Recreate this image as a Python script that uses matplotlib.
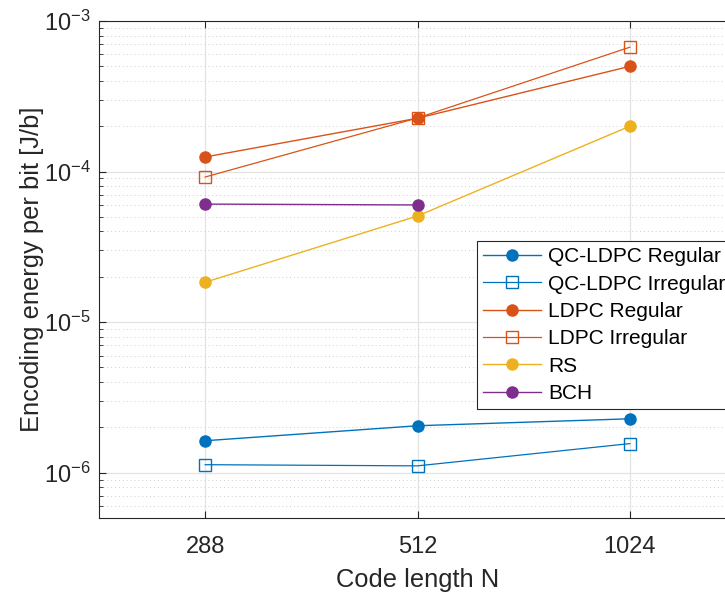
import matplotlib
matplotlib.use("Agg")
import matplotlib.pyplot as plt
from matplotlib.ticker import LogLocator, NullFormatter

plt.rcParams['font.family'] = ['Liberation Sans', 'DejaVu Sans']
plt.rcParams['mathtext.fontset'] = 'custom'
plt.rcParams['mathtext.rm'] = 'Liberation Sans'
plt.rcParams['mathtext.it'] = 'Liberation Sans'

# --- data ---
code_lengths = ["288", "512", "1024"]
qc_ldpc_regular = [1.63e-6, 2.05e-6, 2.28e-6]
qc_ldpc_irregular = [1.13e-6, 1.11e-6, 1.56e-6]
ldpc_regular = [1.25e-4, 2.26e-4, 5.0e-4]
ldpc_irregular = [9.2e-5, 2.27e-4, 6.7e-4]
rs = [1.84e-5, 5.07e-5, 2.0e-4]
bch = [6.08e-5, 6.0e-5]

blue = "#0072BD"
orange = "#D95319"
yellow = "#EDB120"
purple = "#7E2F8E"

fig = plt.figure(figsize=(7.25, 5.92), dpi=100)
ax = fig.add_axes([99 / 725, 1 - 518 / 592, (736 - 99) / 725, (518 - 21) / 592])

x = list(range(1, len(code_lengths) + 1))
ax.plot(x, qc_ldpc_regular, "-o", color=blue, lw=1, ms=8, label="QC-LDPC Regular")
ax.plot(x, qc_ldpc_irregular, "-s", color=blue, lw=0.9, ms=8.5, mfc="none", label="QC-LDPC Irregular")
ax.plot(x, ldpc_regular, "-o", color=orange, lw=1, ms=8, label="LDPC Regular")
ax.plot(x, ldpc_irregular, "-s", color=orange, lw=0.9, ms=8.5, mfc="none", label="LDPC Irregular")
ax.plot(x, rs, "-o", color=yellow, lw=1, ms=8, label="RS")
ax.plot(x[:len(bch)], bch, "-o", color=purple, lw=1, ms=8, label="BCH")

ax.set_yscale("log")
ax.set_ylim(5e-7, 1e-3)
ax.set_xlim(0.5, 3.5)
ax.set_xticks(x)
ax.set_xticklabels(code_lengths)
ax.yaxis.set_minor_locator(LogLocator(base=10, subs=range(2, 10)))
ax.yaxis.set_minor_formatter(NullFormatter())

ax.grid(True, which="major", color="#e3e3e3", lw=0.9)
ax.grid(True, which="minor", axis="y", color="#cfcfcf", lw=0.7, ls=(0, (1, 3)))
ax.set_axisbelow(True)

for s in ax.spines.values():
    s.set_color("#262626")
    s.set_linewidth(0.8)
ax.tick_params(which="both", direction="in", top=True, right=True, colors="#262626",
               labelsize=17, labelcolor="#262626")
ax.tick_params(which="major", length=5)
ax.tick_params(which="minor", length=3)
ax.tick_params(axis="x", pad=13)
ax.tick_params(axis="y", pad=6)

ax.set_xlabel("Code length N", fontsize=18.4, color="#262626", labelpad=7)
ax.set_ylabel("Encoding energy per bit [J/b]", fontsize=18.4, color="#262626", labelpad=0)

leg = ax.legend(loc="upper left", bbox_to_anchor=(477 / 725, 1 - 241 / 592),
                bbox_transform=fig.transFigure, fontsize=15, frameon=True,
                fancybox=False, framealpha=1, edgecolor="#262626",
                handlelength=2.75, handletextpad=0.35, labelspacing=0.4,
                borderpad=0.3, borderaxespad=0)
leg.get_frame().set_linewidth(0.8)

fig.savefig("out.png", dpi=100)
